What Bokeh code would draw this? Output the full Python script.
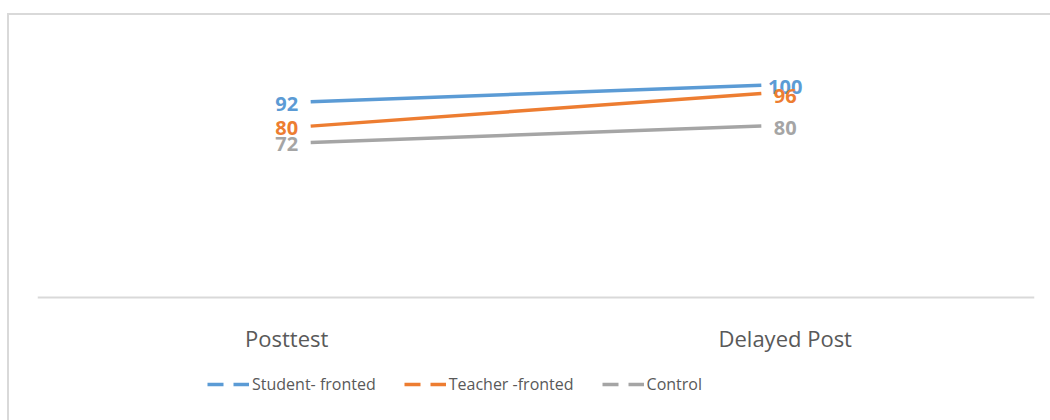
from bokeh.plotting import figure
from bokeh.models import (Range1d, FixedTicker, Legend, LegendItem, LabelSet,
                          ColumnDataSource, InlineStyleSheet)
from bokeh.core.properties import value
from bokeh.embed import file_html
from bokeh.resources import INLINE

# ---- data ----
categories = ["Posttest", "Delayed Post"]
series_names = ["Student- fronted", "Teacher -fronted", "Control"]
student = [92, 100]
teacher = [80, 96]
control = [72, 80]

# ---- style ----
colors = ["#5B9BD5", "#ED7D31", "#A5A5A5"]
cat_pos = [0.5, 1.5]          # category centres on a 0..2 axis
line_inset = 0.048            # Excel draws the lines slightly inside the centres
axis_base = -4                # value at which the category axis line sits

p = figure(width=1050, height=420, output_backend="svg", toolbar_location=None,
           x_range=Range1d(0, 2), y_range=Range1d(-64.4, 122),
           min_border_left=37, min_border_right=16, min_border_top=40,
           min_border_bottom=0)
p.outline_line_color = None
p.background_fill_color = "white"
p.border_fill_color = "white"
p.xgrid.visible = False
p.ygrid.visible = False
p.yaxis.visible = False

xa = p.xaxis[0]
xa.fixed_location = axis_base
xa.ticker = FixedTicker(ticks=cat_pos)
xa.major_label_overrides = {cat_pos[i]: categories[i] for i in range(len(categories))}
xa.axis_line_color = "#D9D9D9"
xa.axis_line_width = 2
xa.major_tick_line_color = None
xa.minor_tick_line_color = None
xa.major_label_text_font = "Open Sans"
xa.major_label_text_font_size = "22px"
xa.major_label_text_color = "#595959"
xa.major_label_standoff = 20

line_x = [cat_pos[0] + line_inset, cat_pos[1] - line_inset]
items = []
for name, vals, col in zip(series_names, [student, teacher, control], colors):
    p.line(line_x, vals, line_color=col, line_width=3.5)
    src = ColumnDataSource(dict(x=cat_pos, y=vals, t=[str(v) for v in vals]))
    p.add_layout(LabelSet(x="x", y="y", text="t", source=src, text_align="center",
                          text_baseline="middle", y_offset=-2,
                          text_font=value("Open Sans"), text_font_style="bold",
                          text_font_size="20px", text_color=col))
    dummy = p.line([float("nan")], [float("nan")], line_color=col, line_width=3.5,
                   line_dash="16 10")
    items.append(LegendItem(label=name, renderers=[dummy]))

legend = Legend(items=items, orientation="horizontal", location=(170, 25),
                glyph_width=42, glyph_height=20, label_standoff=3, spacing=28,
                padding=0, margin=0, border_line_color=None,
                background_fill_alpha=0, label_text_font="Open Sans",
                label_text_font_size="16px", label_text_color="#595959",
                label_height=20)
p.add_layout(legend, "center")

p.stylesheets = [InlineStyleSheet(css="""
:host::after { content: ""; position: absolute; left: 7px; top: 13px;
  right: -20px; bottom: -20px; border: 2px solid #D9D9D9; pointer-events: none; }
""")]

open("out.html", "w").write(file_html(p, INLINE))
